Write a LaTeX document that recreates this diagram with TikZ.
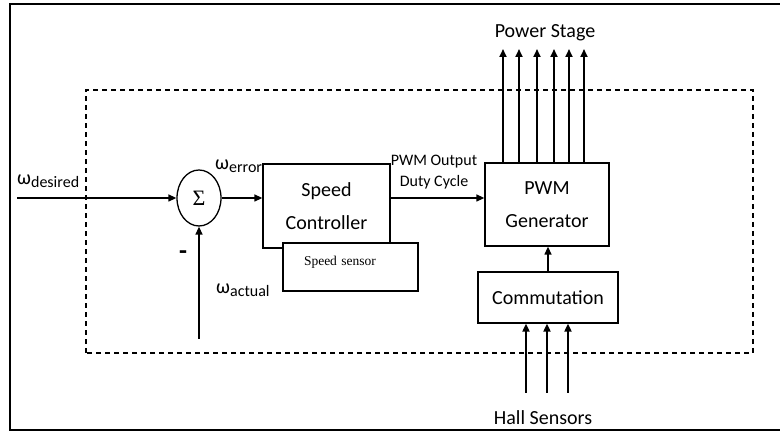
\documentclass[tikz,border=0pt]{standalone}
\usepackage{fontspec}
\setmainfont{Carlito}
\newfontfamily\sensorfont{Liberation Serif}
\usetikzlibrary{arrows.meta,positioning,shapes.geometric}
\newcommand\wsub[1]{{\fontsize{20}{20}\selectfont ω}\raisebox{-3pt}{\fontsize{16}{16}\selectfont #1}}
\tikzset{>={Triangle[length=8pt,width=7pt]},
  box/.style={draw,line width=1.3pt,fill=white,align=center,inner sep=0pt,
    font=\fontsize{20}{33}\selectfont},
  sumnode/.style={draw,ellipse,line width=1.3pt,minimum width=44pt,minimum height=56pt,
    inner sep=0pt,font=\sensorfont\fontsize{22}{22}\selectfont},
  flow/.style={->,line width=1.3pt},
  bus/.style={->,line width=1.9pt},
  lbl/.style={font=\fontsize{20}{24}\selectfont,inner sep=0pt},
  dashbox/.style={dash pattern=on 5pt off 4pt,line width=1.3pt}}

\begin{document}
\begin{tikzpicture}[x=1pt,y=1pt]
  \useasboundingbox (0,0) rectangle (780,431);
  \draw[line width=2.5pt] (780,427) -- (10,427) -- (10,1) -- (780,1);
  \draw[dashbox] (86,78) rectangle (753,341);
  % speed loop
  \node[sumnode] (sum) at (199,233) {Σ};
  \node[box,minimum width=127pt,minimum height=84pt] (spd) at (326.5,225) {Speed\\Controller};
  \node[box,minimum width=135pt,minimum height=48pt,text width=93pt,inner xsep=21pt,
    align=left,text depth=13pt,font=\sensorfont\fontsize{13.5}{15}\selectfont] (sens) at (350.5,164) {Speed sensor};
  \node[box,minimum width=124pt,minimum height=83pt] (pwm) at (547,226.5) {PWM\\Generator};
  \node[box,minimum width=140pt,minimum height=51pt] (comm) at (548,133.5) {Commutation};
  \coordinate (win) at (17,233);
  \coordinate (wfb) at (199,92);
  \draw[flow] (win) -- (sum.west);
  \draw[flow] (wfb) -- (sum.south);
  \draw[flow] (sum.east) -- (spd.west |- sum.east);
  \draw[flow] (spd.east |- sum.east) -- (pwm.west |- sum.east);
  \draw[flow] (comm.north) -- (comm.north |- pwm.south);
  % gate signals and hall inputs
  \foreach \x in {503,519,537,554,569,584}
    \draw[bus] (\x,0 |- pwm.north) -- (\x,382);
  \foreach \x in {526,547,568}
    \draw[bus] (\x,38) -- (\x,0 |- comm.south);
  \node[lbl] (pstage) at (545,398) {Power Stage};
  \node[lbl] (hall) at (543,13) {Hall Sensors};
  \node[lbl,anchor=base west] (wdes) at (17,246) {\wsub{desired}};
  \node[lbl,anchor=base west] (werr) at (215,261) {\wsub{error}};
  \node[lbl,anchor=base west] (wact) at (216,137) {\wsub{actual}};
  \node[lbl,font=\fontsize{16}{21}\selectfont,align=center] (duty) at (434,259) {PWM Output\\Duty Cycle};
  \node[lbl,font=\bfseries\fontsize{26}{26}\selectfont] (minus) at (183,176) {-};
\end{tikzpicture}
\end{document}
